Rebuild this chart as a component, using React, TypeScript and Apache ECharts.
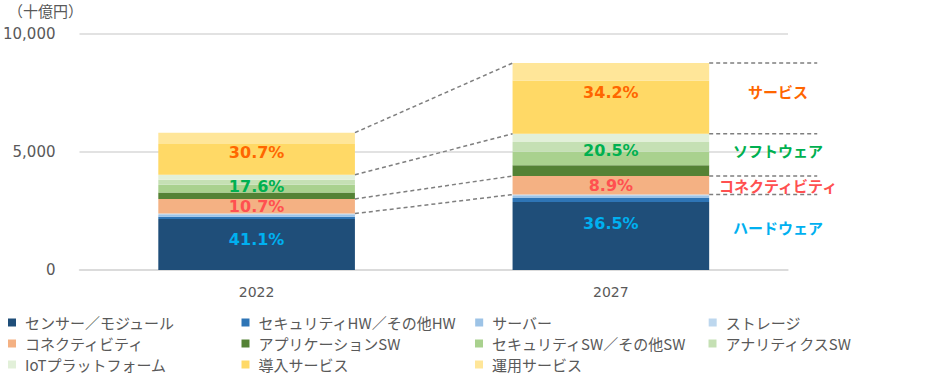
import React, { useEffect, useRef } from "react";
import * as echarts from "echarts";

// ---------- data ----------
const categories = ["2022", "2027"];
const seriesNames = [
  "センサー／モジュール",
  "セキュリティHW／その他HW",
  "サーバー",
  "ストレージ",
  "コネクティビティ",
  "アプリケーションSW",
  "セキュリティSW／その他SW",
  "アナリティクスSW",
  "IoTプラットフォーム",
  "導入サービス",
  "運用サービス",
];
const values2022 = [2160, 90, 75, 60, 621, 275, 325, 210, 210, 1305, 476];
const values2027 = [2880, 160, 90, 60, 780, 460, 570, 415, 345, 2254, 736];
const seriesColors = [
  "#1F4E79",
  "#2E75B6",
  "#9DC3E6",
  "#BDD7EE",
  "#F4B183",
  "#548235",
  "#A9D18E",
  "#C5E0B4",
  "#E2F0D9",
  "#FFD966",
  "#FFE699",
];
const groupNames = ["ハードウェア", "コネクティビティ", "ソフトウェア", "サービス"];
const groupOfSeries = [0, 0, 0, 0, 1, 2, 2, 2, 2, 3, 3];
const pct2022 = ["41.1%", "10.7%", "17.6%", "30.7%"];
const pct2027 = ["36.5%", "8.9%", "20.5%", "34.2%"];
const groupColors = ["#00B0F0", "#FF5050", "#00B050", "#FF6600"];
const yMin = 0;
const yMax = 10000;
const yInterval = 5000;
const unitLabel = "（十億円）";
const legendRows = [
  [0, 1, 2, 3],
  [4, 5, 6, 7],
  [8, 9, 10],
];

// ---------- layout / style constants ----------
const BAR_RATIO = 0.555;
const EXT_RATIO = 0.305;
const RIGHT_LABEL_RATIO = 0.472;
const pctNudge2022 = [-2, 0, 0, -1.5];
const pctNudge2027 = [-9, 0, -4, -6];
const rightNudge = [-4.5, 0, -4, -7];
const legendTops = [315, 336, 357];
const CJK = "'Noto Sans CJK JP', sans-serif";
const NUM = "'DejaVu Sans', 'Noto Sans CJK JP', sans-serif";
const TEXT_GRAY = "#595959";

function groupBounds(values: number[]) {
  const totals = [0, 0, 0, 0];
  values.forEach((v, i) => (totals[groupOfSeries[i]] += v));
  const bounds: [number, number][] = [];
  let acc = 0;
  totals.forEach((t) => {
    bounds.push([acc, acc + t]);
    acc += t;
  });
  return bounds;
}

export default function App() {
  const ref = useRef<HTMLDivElement>(null);

  useEffect(() => {
    if (!ref.current) return;
    const chart = echarts.init(ref.current, null, { renderer: "svg" });

    const b2022 = groupBounds(values2022);
    const b2027 = groupBounds(values2027);

    const barSeries = seriesNames.map((name, i) => ({
      name,
      type: "bar",
      stack: "total",
      barWidth: BAR_RATIO * 100 + "%",
      itemStyle: { color: seriesColors[i] },
      silent: true,
      data: [values2022[i], values2027[i]],
    }));

    const connectorData = groupNames.map((_, g) => [0, b2022[g][1], b2027[g][1]]);

    const labelItems: { cat: number; lo: number; hi: number; g: number }[] = [];
    [b2022, b2027].forEach((b, cat) =>
      b.forEach(([lo, hi], g) => labelItems.push({ cat, lo, hi, g }))
    );

    const connectorSeries = {
      type: "custom",
      silent: true,
      z: 5,
      data: connectorData,
      encode: { x: 0, y: [1, 2] },
      renderItem: (params: any, api: any) => {
        const v0 = api.value(1);
        const v1 = api.value(2);
        const p0 = api.coord([0, v0]);
        const p1 = api.coord([1, v1]);
        const band = api.size([1, 0])[0];
        const half = (band * BAR_RATIO) / 2;
        const style = { stroke: "#7F7F7F", lineWidth: 1.5, lineDash: [4, 3], fill: null };
        return {
          type: "group",
          children: [
            {
              type: "line",
              shape: { x1: p0[0] + half, y1: p0[1], x2: p1[0] - half, y2: p1[1] },
              style,
            },
            {
              type: "line",
              shape: {
                x1: p1[0] + half,
                y1: p1[1],
                x2: p1[0] + half + band * EXT_RATIO,
                y2: p1[1],
              },
              style,
            },
          ],
        };
      },
    };

    const labelSeries = {
      type: "custom",
      silent: true,
      z: 6,
      data: labelItems.map((it) => [it.cat, it.lo, it.hi]),
      encode: { x: 0, y: [1, 2] },
      renderItem: (params: any, api: any) => {
        const it = labelItems[params.dataIndex];
        const mid = (it.lo + it.hi) / 2;
        const p = api.coord([it.cat, mid]);
        const band = api.size([1, 0])[0];
        const pcts = it.cat === 0 ? pct2022 : pct2027;
        const nudge = it.cat === 0 ? pctNudge2022 : pctNudge2027;
        const children: any[] = [
          {
            type: "text",
            x: p[0],
            y: p[1] + nudge[it.g],
            style: {
              text: pcts[it.g],
              fill: groupColors[it.g],
              font: `bold 16px ${NUM}`,
              align: "center",
              verticalAlign: "middle",
            },
          },
        ];
        if (it.cat === 1) {
          children.push({
            type: "text",
            x: p[0] + band * RIGHT_LABEL_RATIO,
            y: p[1] + rightNudge[it.g],
            style: {
              text: groupNames[it.g],
              fill: groupColors[it.g],
              font: `bold 15px ${CJK}`,
              align: "center",
              verticalAlign: "middle",
            },
          });
        }
        return { type: "group", children };
      },
    };

    const legends = legendRows.map((row, r) => ({
      orient: "horizontal",
      left: 8,
      top: legendTops[r],
      width: 924,
      padding: 0,
      itemWidth: 8,
      itemHeight: 8,
      itemGap: 18.5,
      icon: "rect",
      selectedMode: false,
      data: row.map((i) => seriesNames[i]),
      textStyle: {
        fontFamily: CJK,
        fontSize: 15,
        lineHeight: 15,
        color: TEXT_GRAY,
        width: 198,
        overflow: "none",
        padding: [0, 0, 0, 4],
      },
    }));

    chart.setOption({
      animation: false,
      grid: { left: 78, right: 144, top: 33.5, bottom: 107, containLabel: false },
      legend: legends,
      graphic: [
        {
          type: "text",
          left: 8,
          top: 3,
          style: { text: unitLabel, fill: TEXT_GRAY, font: `15px ${CJK}` },
        },
      ],
      xAxis: {
        type: "category",
        data: categories,
        axisTick: { show: false },
        axisLine: { lineStyle: { color: "#D9D9D9", width: 1.5 } },
        axisLabel: { color: TEXT_GRAY, fontFamily: NUM, fontSize: 14, margin: 15 },
      },
      yAxis: {
        type: "value",
        min: yMin,
        max: yMax,
        interval: yInterval,
        axisLine: { show: false },
        axisTick: { show: false },
        splitLine: { lineStyle: { color: "#D9D9D9", width: 1.5 } },
        axisLabel: {
          color: TEXT_GRAY,
          fontFamily: NUM,
          fontSize: 15,
          margin: 24,
          formatter: (v: number) => v.toLocaleString("en-US"),
        },
      },
      series: [...barSeries, connectorSeries, labelSeries],
    });

    return () => chart.dispose();
  }, []);

  return (
    <div
      ref={ref}
      style={{ position: "fixed", left: 0, top: 0, width: 932, height: 377, background: "#fff" }}
    />
  );
}
